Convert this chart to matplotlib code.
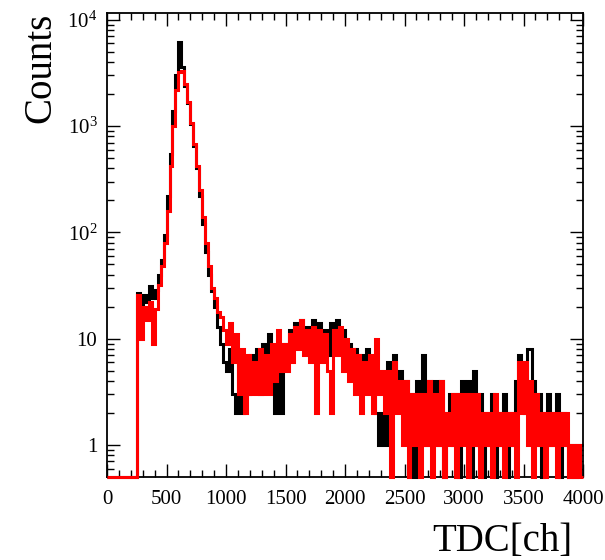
import numpy as np
import matplotlib
matplotlib.use('Agg')
import matplotlib.pyplot as plt
from matplotlib.ticker import MultipleLocator, LogLocator, NullFormatter

# histogram binning (TDC channels)
bin_width = 25
x_max = 4000
empty_bins = 10  # 0..250 has no entries

counts_black = [
    27, 21, 26, 22, 31, 24, 29, 40, 55, 95,
    220, 550, 1400, 3000, 6200, 3600, 2400, 1650, 1050, 650,
    400, 220, 120, 65, 40, 28, 20, 13, 9, 6,
    5, 8, 3, 2, 6, 2, 5, 3, 7, 4,
    8, 3, 9, 5, 11, 4, 2, 8, 2, 9,
    6, 12, 8, 14, 9, 15, 10, 13, 9, 15,
    10, 14, 8, 12, 7, 14, 9, 15, 8, 12,
    6, 9, 5, 8, 4, 7, 5, 8, 4, 6,
    2, 1, 2, 1, 6, 5, 7, 3, 5, 2,
    4, 1, 3, 0, 4, 2, 7, 1, 4, 2,
    4, 1, 4, 0, 2, 3, 1, 3, 0, 4,
    2, 4, 0, 5, 1, 3, 0, 2, 1, 3,
    0, 2, 1, 3, 0, 2, 1, 4, 7, 4,
    2, 8, 8, 4, 1, 3, 0, 2, 3, 1,
    2, 3, 0, 2, 1, 0, 1, 0, 1, 1,
]

counts_red = [
    26, 10, 20, 15, 22, 9, 19, 32, 48, 80,
    160, 420, 1000, 2200, 3200, 3300, 2500, 1700, 1080, 680,
    420, 250, 140, 80, 48, 30, 24, 18, 16, 12,
    9, 14, 6, 11, 3, 8, 2, 7, 3, 6,
    3, 8, 3, 7, 3, 9, 4, 12, 5, 9,
    5, 11, 6, 13, 8, 15, 7, 12, 6, 13,
    2, 12, 6, 11, 5, 2, 12, 7, 13, 5,
    10, 4, 8, 3, 7, 2, 6, 3, 7, 2,
    10, 3, 5, 2, 5, 0, 6, 2, 4, 1,
    4, 0, 3, 1, 3, 0, 3, 1, 4, 0,
    3, 1, 4, 0, 2, 1, 3, 0, 3, 1,
    3, 0, 3, 1, 3, 0, 2, 1, 2, 0,
    3, 1, 2, 0, 2, 1, 2, 0, 6, 2,
    6, 1, 4, 0, 3, 1, 2, 0, 2, 1,
    2, 0, 2, 1, 2, 0, 1, 0, 1, 0,
]

y_min = 0.5
y_max = 1.16e4

plt.rcParams['font.family'] = ['Liberation Serif', 'DejaVu Serif']
plt.rcParams['mathtext.fontset'] = 'stix'

edges = np.arange(0, x_max + bin_width, bin_width)


def prepare(counts):
    # empty bins drawn on the bottom of the frame, like ROOT does on log scale
    h = np.array([0] * empty_bins + counts, dtype=float)
    h[h <= 0] = y_min
    return h


fig = plt.figure(figsize=(6.05, 5.6), dpi=100)
ax = fig.add_axes([0.1769, 0.1482, 0.7868, 0.8286])

ax.stairs(prepare(counts_black), edges, baseline=None, color='black',
          linewidth=2.2, clip_on=False, zorder=3)
ax.stairs(prepare(counts_red), edges, baseline=None, color='#ff0000',
          linewidth=2.2, clip_on=False, zorder=3)

ax.set_yscale('log')
ax.set_xlim(0, x_max)
ax.set_ylim(y_min, y_max)

ax.set_yticks([1, 10, 100, 1000, 10000])
ax.set_yticklabels(['1', '10', r'$\mathregular{10^{2}}$',
                    r'$\mathregular{10^{3}}$', r'$\mathregular{10^{4}}$'])
ax.yaxis.set_minor_locator(LogLocator(base=10, subs=np.arange(2, 10)))
ax.yaxis.set_minor_formatter(NullFormatter())
ax.xaxis.set_major_locator(MultipleLocator(500))
ax.xaxis.set_minor_locator(MultipleLocator(100))

ax.tick_params(which='both', direction='in', top=True, right=True,
               labelsize=15, width=1.0)
ax.tick_params(which='major', length=9.5)
ax.tick_params(which='minor', length=5)
ax.tick_params(axis='x', pad=9)
ax.tick_params(axis='y', pad=7)
for s in ax.spines.values():
    s.set_linewidth(1.3)

ax.set_xlabel('TDC[ch]', fontsize=28, loc='right')
ax.xaxis.set_label_coords(0.977, -0.10)
ax.set_ylabel('Counts', fontsize=28, loc='top')
ax.yaxis.set_label_coords(-0.101, 1.0)

fig.savefig('out.png', dpi=100)
